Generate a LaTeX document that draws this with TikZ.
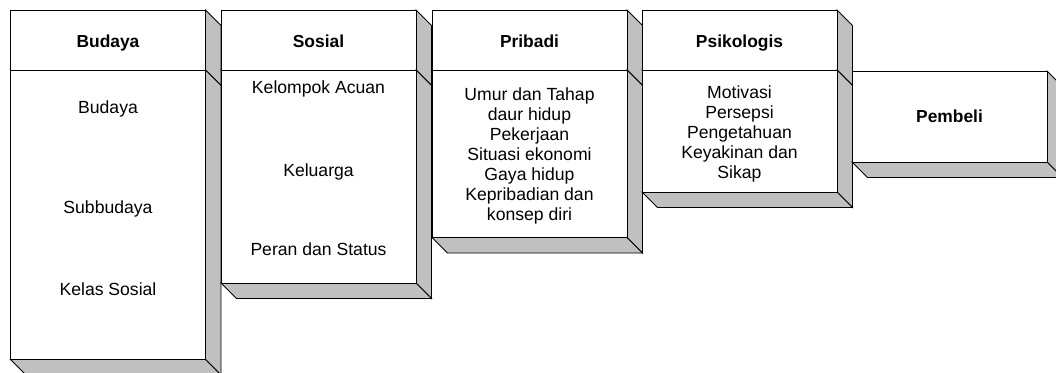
\documentclass[tikz,border=0pt]{standalone}
\usepackage{fontspec}
\setmainfont{Liberation Sans}
\definecolor{sidegray}{RGB}{192,192,192}
\tikzset{
  face/.style={draw=black, line width=0.9pt, line join=miter},
  frontface/.style={face, fill=white},
  sideface/.style={face, fill=sidegray},
  headtext/.style={font=\fontsize{17.4}{20}\selectfont\bfseries, inner sep=0pt, align=center, anchor=base},
  bodytext/.style={font=\fontsize{17.6}{20}\selectfont, inner sep=0pt, align=center, anchor=base},
  listtext/.style={font=\fontsize{17.6}{20}\selectfont, inner sep=0pt, align=center},
}
% #1 x1, #2 y1, #3 x2, #4 y2
\newcommand\solidbox[4]{%
  \draw[sideface] (#3,#2) -- (#3+15.5,#2+15.5) -- (#3+15.5,#4+15.5) -- (#3,#4) -- cycle;
  \draw[sideface] (#1,#4) -- (#3,#4) -- (#3+15.5,#4+15.5) -- (#1+15.5,#4+15.5) -- cycle;
  \draw[frontface] (#1,#2) rectangle (#3,#4);
}
\begin{document}
\begin{tikzpicture}[x=1pt,y=-1pt]
\useasboundingbox (0,0) rectangle (1056,372);
% Budaya
\solidbox{10.5}{10}{205.5}{70}
\solidbox{10.5}{70}{205.5}{359.5}
\node[headtext] (hbudaya) at (108,47) {Budaya};
\node[bodytext] (budaya) at (108,113.5) {Budaya};
\node[bodytext] (subbudaya) at (108,213.5) {Subbudaya};
\node[bodytext] (kelas) at (108,295.5) {Kelas Sosial};
% Sosial
\solidbox{221}{10}{416}{70}
\solidbox{221}{70}{416}{283}
\node[headtext] (hsosial) at (318.5,47) {Sosial};
\node[bodytext] (acuan) at (318.5,93) {Kelompok Acuan};
\node[bodytext] (keluarga) at (318.5,176) {Keluarga};
\node[bodytext] (peran) at (318.5,255.5) {Peran dan Status};
% Pribadi
\solidbox{432}{10}{627}{70}
\solidbox{432}{70}{627}{237.5}
\node[headtext] (hpribadi) at (529.5,47) {Pribadi};
\node[listtext] (pribadi) at (529.5,156) {Umur dan Tahap\\daur hidup\\Pekerjaan\\Situasi ekonomi\\Gaya hidup\\Kepribadian dan\\konsep diri};
% Psikologis
\solidbox{642}{10}{837}{70}
\solidbox{642}{70}{837}{192}
\node[headtext] (hpsiko) at (739.5,47) {Psikologis};
\node[listtext] (psiko) at (739.5,133.5) {Motivasi\\Persepsi\\Pengetahuan\\Keyakinan dan\\Sikap};
% Pembeli
\solidbox{852}{71}{1047}{162}
\node[headtext] (pembeli) at (949.5,122.5) {Pembeli};
\end{tikzpicture}
\end{document}
